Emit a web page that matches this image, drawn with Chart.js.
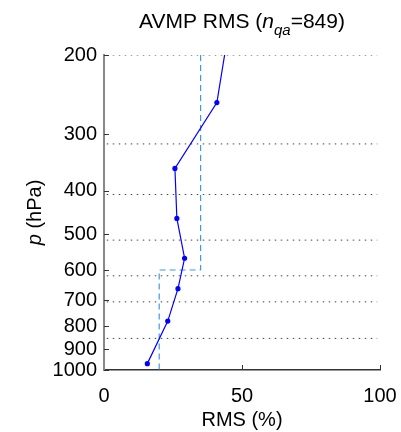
<!DOCTYPE html>
<html lang="en">
<head>
    <meta charset="UTF-8">
    <title>AVMP RMS</title>
    <style>
        body { margin: 0; background: #fff; }
        #wrap { position: relative; width: 401px; height: 432px; }
    </style>
    <script src="https://cdn.jsdelivr.net/npm/chart.js"></script>
</head>
<body>
    <div id="wrap"><canvas id="rmsChart" width="401" height="432"></canvas></div>

    <script>
        // profile
        const pLevels = [200, 255, 357, 461, 565, 660, 779, 968];
        const rmsValues = [43.7, 40.9, 25.7, 26.4, 29.2, 26.8, 23.1, 15.7];

        // requirement (dashed step)
        const reqP = [200, 600, 600, 1000];
        const reqRms = [35, 35, 20, 20];

        // layer boundaries (dotted)
        const layerEdges = [200, 315, 408, 515, 618, 706, 851];

        const pTicks = [200, 300, 400, 500, 600, 700, 800, 900, 1000];
        const rmsTicks = [0, 50, 100];

        const FONT = "'Liberation Sans', Arial, sans-serif";

        const profile = pLevels.map((p, i) => ({ x: rmsValues[i], y: p }));
        const requirement = reqP.map((p, i) => ({ x: reqRms[i], y: p }));

        const datasets = [
            {
                label: 'RMS',
                data: profile,
                showLine: true,
                borderColor: '#0000ff',
                backgroundColor: '#0000ff',
                borderWidth: 1.2,
                pointRadius: ctx => ctx.dataIndex === 0 ? 0 : 2,
                pointStyle: 'circle'
            },
            {
                label: 'Requirement',
                data: requirement,
                showLine: true,
                borderColor: '#3d9ae8',
                borderWidth: 1.2,
                borderDash: [6, 4],
                pointRadius: 0
            }
        ];
        layerEdges.forEach(p => {
            datasets.push({
                label: 'edge ' + p,
                data: [{ x: 1, y: p }, { x: 99, y: p }],
                showLine: true,
                borderColor: '#444',
                borderWidth: 1,
                borderDash: [1.5, 4.5],
                pointRadius: 0
            });
        });

        // inward tick marks + titles
        const extras = {
            id: 'extras',
            afterDraw(chart) {
                const ctx = chart.ctx;
                const xs = chart.scales.x, ys = chart.scales.y;
                const a = chart.chartArea;
                ctx.save();
                ctx.strokeStyle = '#333';
                ctx.lineWidth = 1;
                pTicks.forEach(v => {
                    const y = Math.round(ys.getPixelForValue(v)) + 0.5;
                    ctx.beginPath();
                    ctx.moveTo(a.left, y);
                    ctx.lineTo(a.left + 5, y);
                    ctx.stroke();
                });
                rmsTicks.slice(1).forEach(v => {
                    const x = Math.round(xs.getPixelForValue(v)) + 0.5;
                    ctx.beginPath();
                    ctx.moveTo(x, a.bottom);
                    ctx.lineTo(x, a.bottom - 5);
                    ctx.stroke();
                });

                ctx.fillStyle = '#000';
                ctx.textBaseline = 'alphabetic';
                ctx.textAlign = 'left';

                // title: AVMP RMS (n_qa=849)
                const parts = [
                    { t: 'AVMP RMS (', f: '21px ' + FONT, dy: 0 },
                    { t: 'n', f: 'italic 21px ' + FONT, dy: 0 },
                    { t: 'qa', f: 'italic 15px ' + FONT, dy: 7 },
                    { t: '=849)', f: '21px ' + FONT, dy: 0 }
                ];
                let total = 0;
                parts.forEach(pt => { ctx.font = pt.f; pt.w = ctx.measureText(pt.t).width; total += pt.w; });
                let tx = (a.left + a.right) / 2 - total / 2;
                parts.forEach(pt => {
                    ctx.font = pt.f;
                    ctx.fillText(pt.t, tx, 28 + pt.dy);
                    tx += pt.w;
                });

                // x axis title
                ctx.font = '20px ' + FONT;
                ctx.textAlign = 'center';
                ctx.fillText('RMS (%)', (a.left + a.right) / 2, 426);

                // y axis title: p (hPa)
                ctx.translate(41, (a.top + a.bottom) / 2);
                ctx.rotate(-Math.PI / 2);
                ctx.font = 'italic 20px ' + FONT;
                const wp = ctx.measureText('p').width;
                ctx.font = '20px ' + FONT;
                const wr = ctx.measureText(' (hPa)').width;
                ctx.textAlign = 'left';
                ctx.font = 'italic 20px ' + FONT;
                ctx.fillText('p', -(wp + wr) / 2, 0);
                ctx.font = '20px ' + FONT;
                ctx.fillText(' (hPa)', -(wp + wr) / 2 + wp, 0);
                ctx.restore();
            }
        };

        new Chart(document.getElementById('rmsChart'), {
            type: 'scatter',
            data: { datasets },
            options: {
                responsive: false,
                animation: false,
                layout: { padding: { left: 0, top: 55, right: 21, bottom: 0 } },
                plugins: { legend: { display: false }, tooltip: { enabled: false } },
                scales: {
                    x: {
                        type: 'linear',
                        min: 0,
                        max: 100,
                        afterBuildTicks: s => { s.ticks = rmsTicks.map(v => ({ value: v })); },
                        afterFit: s => { s.height = 62; s.paddingLeft = 0; s.paddingRight = 0; },
                        grid: { display: false, drawTicks: false },
                        border: { color: '#333', width: 1.5 },
                        ticks: {
                            padding: 14,
                            color: '#000',
                            maxRotation: 0,
                            font: { size: 20, family: FONT }
                        }
                    },
                    y: {
                        type: 'logarithmic',
                        reverse: true,
                        min: 200,
                        max: 1000,
                        afterBuildTicks: s => { s.ticks = pTicks.map(v => ({ value: v })); },
                        afterFit: s => { s.width = 104; s.paddingTop = 0; s.paddingBottom = 0; },
                        grid: { display: false, drawTicks: false },
                        border: { color: '#888', width: 2 },
                        ticks: {
                            padding: 7,
                            color: '#000',
                            autoSkip: false,
                            font: { size: 20, family: FONT },
                            callback: v => String(v)
                        }
                    }
                }
            },
            plugins: [extras]
        });
    </script>
</body>
</html>
